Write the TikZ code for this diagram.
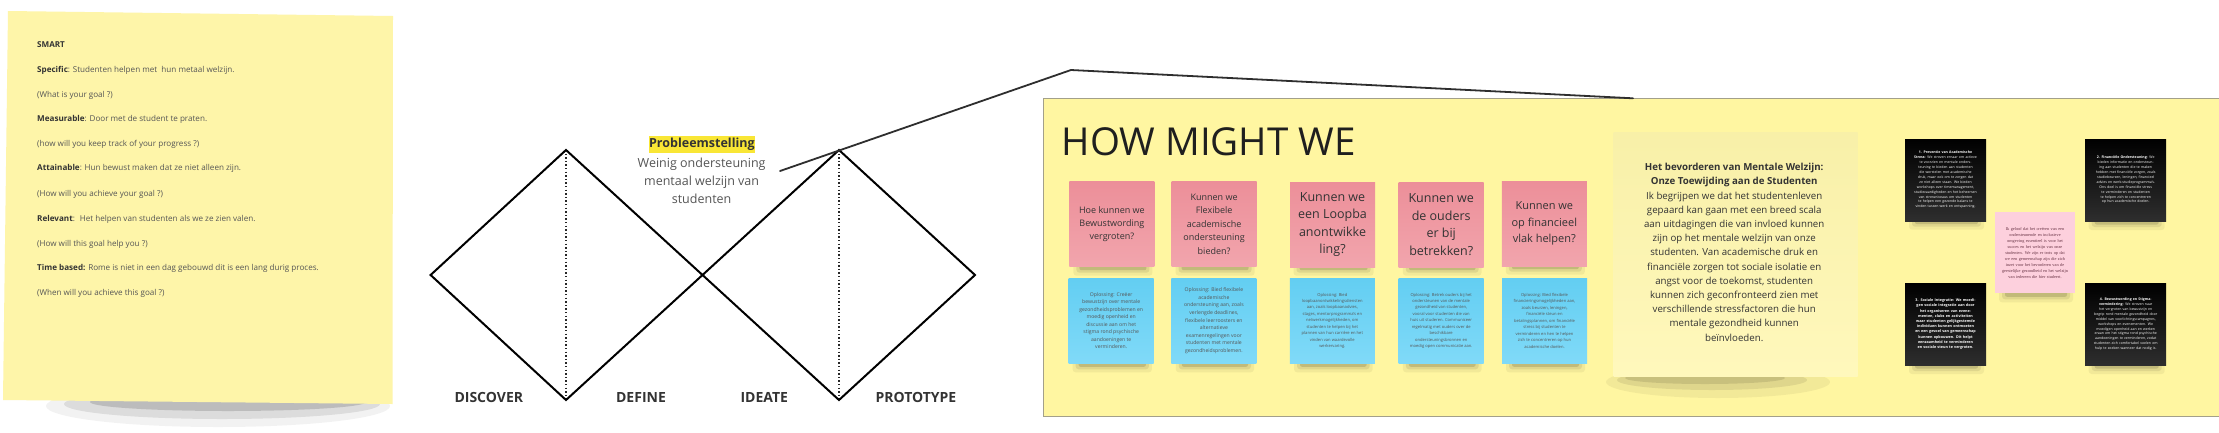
\documentclass[tikz,border=0pt]{standalone}
\usepackage{fontspec}
\setmainfont{Open Sans}
\newfontfamily\serifnote{Liberation Serif}
\definecolor{frameyellow}{HTML}{FFF6A1}
\definecolor{frameedge}{HTML}{A3A08A}
\definecolor{noteyellow}{HTML}{FEF5A9}
\definecolor{bignoteA}{HTML}{F8F0A8}
\definecolor{bignoteB}{HTML}{FFF8BC}
\definecolor{pinkA}{HTML}{EC8F99}
\definecolor{pinkB}{HTML}{F2A5AD}
\definecolor{blueA}{HTML}{63CEF2}
\definecolor{blueB}{HTML}{80DAF8}
\definecolor{lightpink}{HTML}{FDD0DD}
\definecolor{txt}{HTML}{333333}
\definecolor{txtlight}{HTML}{555555}
\definecolor{linegray}{HTML}{2E2E2E}
\definecolor{hilite}{HTML}{F9E635}
\newcommand\notesh[3]{%
  \fill[black,opacity=0.05,rounded corners=3pt] (#1+4,#3-6) rectangle (#2-2,#3+9);
  \fill[black,opacity=0.08,rounded corners=3pt] (#1+7,#3-6) rectangle (#2-5,#3+6);
  \fill[black,opacity=0.13,rounded corners=2pt] (#1+10,#3-6) rectangle (#2-8,#3+3.5);
}
\tikzset{
  pinknote/.style={top color=pinkA, bottom color=pinkB, minimum width=85pt, minimum height=85pt, inner sep=0pt, align=center, text=txt},
  bluenote/.style={top color=blueA, bottom color=blueB, minimum width=85pt, minimum height=85pt, inner sep=0pt, align=center, text=txtlight},
  blacknote/.style={top color=black, bottom color=black!82!white, minimum width=81pt, minimum height=82pt, inner sep=0pt, align=center, text width=64pt, text=white, font=\fontsize{3.5}{4.9}\selectfont},
  smartline/.style={anchor=base west, inner sep=0pt, text=txtlight, font=\fontsize{8.1}{9.5}\selectfont},
  phase/.style={font=\bfseries\fontsize{14}{16}\selectfont, text=txt, inner sep=0pt},
  diam/.style={line width=2pt, black, line join=miter},
  dotline/.style={line width=1.3pt, dash pattern=on 1.3pt off 2.3pt, black!85},
  callout/.style={line width=1.8pt, linegray},
}
\begin{document}
\begin{tikzpicture}[x=1pt,y=-1pt]
\useasboundingbox (0,0) rectangle (2219,432);
\fill[white] (0,0) rectangle (2219,432);

% ---------- left SMART note ----------
\fill[black,opacity=0.05] (218,406) ellipse (172pt and 21pt);
\fill[black,opacity=0.09] (222,404) ellipse (158pt and 15pt);
\fill[black,opacity=0.14] (228,402) ellipse (138pt and 9pt);
\fill[noteyellow] (8,11) -- (393,16) -- (392.5,404) -- (3,400) -- cycle;
\node[smartline,text=txt] (s0) at (37,47.8) {\bfseries SMART};
\node[smartline] (s1) at (37,72.8) {\textbf{\color{txt}Specific}: Studenten helpen met~ hun metaal welzijn.};
\node[smartline] (s2) at (37,97.1) {(What is your goal ?)};
\node[smartline] (s3) at (37,121.8) {\textbf{\color{txt}Measurable}: Door met de student te praten.};
\node[smartline] (s4) at (37,146.8) {(how will you keep track of your progress ?)};
\node[smartline] (s5) at (37,170.8) {\textbf{\color{txt}Attainable}: Hun bewust maken dat ze niet alleen zijn.};
\node[smartline] (s6) at (37,196.1) {(How will you achieve your goal ?)};
\node[smartline] (s7) at (37,221.1) {\textbf{\color{txt}Relevant}:~ Het helpen van studenten als we ze zien valen.};
\node[smartline] (s8) at (37,246.1) {(How will this goal help you ?)};
\node[smartline] (s9) at (37,270.1) {\textbf{\color{txt}Time based:} Rome is niet in een dag gebouwd dit is een lang durig proces.};
\node[smartline] (s10) at (37,295.1) {(When will you achieve this goal ?)};

% ---------- double diamond ----------
\coordinate (L1) at (430.6,275);
\coordinate (T1) at (566,150);
\coordinate (B1) at (566,400);
\coordinate (M) at (702.5,275);
\coordinate (T2) at (839,150);
\coordinate (B2) at (839,400);
\coordinate (R2) at (975,275);
\draw[dotline] (T1) -- (B1);
\draw[dotline] (T2) -- (B2);
\draw[diam] (L1) -- (T1) -- (M) -- (B1) -- cycle;
\draw[diam] (M) -- (T2) -- (R2) -- (B2) -- cycle;
\node[phase] (discover) at (488.8,397.7) {DISCOVER};
\node[phase] (define) at (641,397.7) {DEFINE};
\node[phase] (ideate) at (764.3,397.7) {IDEATE};
\node[phase] (prototype) at (915.9,397.7) {PROTOTYPE};

\fill[hilite] (648.8,135.7) rectangle (755.1,153.3);
\node[inner sep=0pt, text=txt, font=\bfseries\fontsize{12.5}{15}\selectfont] (probl) at (701.9,144.2) {Probleemstelling};
\node[inner sep=0pt, align=center, text=txtlight, font=\fontsize{12.5}{18}\selectfont] (probtxt) at (701.6,180.7) {Weinig ondersteuning\\mentaal welzijn van\\studenten};

% ---------- HMW frame ----------
\fill[frameyellow] (1043,98.3) rectangle (2230,416.7);
\draw[frameedge, line width=0.9pt] (2230,98.3) -- (1043,98.3) -- (1043,416.7) -- (2230,416.7);

\coordinate (ps) at (780,171);
\coordinate (pk) at (1071,70);
\coordinate (fe) at (1633,98.3);
\draw[callout, line cap=round, line join=round] (ps) -- (pk) -- (fe);

\node[anchor=base west, inner sep=0pt, text=black!88, font=\fontsize{38.5}{40}\selectfont] (hmw) at (1061.5,155.7) {HOW MIGHT WE};

% shadows of notes
\notesh{1069.4}{1154.4}{266.7}
\notesh{1171.6}{1256.6}{266.7}
\notesh{1289.5}{1375.6}{266.7}
\notesh{1398.9}{1483.5}{266.7}
\notesh{1501.9}{1586.8}{265.7}
\notesh{1068.6}{1153.9}{363.3}
\notesh{1171.8}{1256}{363.3}
\notesh{1290}{1374.6}{363.3}
\notesh{1398.9}{1483.6}{363.3}
\notesh{1502}{1587}{363.3}

% pink question notes
\node[pinknote, font=\fontsize{9}{13.3}\selectfont] (q1) at (1111.9,224.2) {Hoe kunnen we\\Bewustwording\\vergroten?};
\node[pinknote, font=\fontsize{9}{13.5}\selectfont] (q2) at (1214.1,224.2) {Kunnen we\\Flexibele\\academische\\ondersteuning\\bieden?};
\node[pinknote, font=\fontsize{12.5}{17.5}\selectfont] (q3) at (1332.5,224.5) {Kunnen we\\een Loopba\\anontwikke\\ling?};
\node[pinknote, font=\fontsize{12.5}{17.5}\selectfont] (q4) at (1441.2,224.5) {Kunnen we\\de ouders\\er bij\\betrekken?};
\node[pinknote, font=\fontsize{11}{16.5}\selectfont] (q5) at (1544.3,223.7) {Kunnen we\\op financieel\\vlak helpen?};

% blue solution notes
\node[bluenote, font=\fontsize{5.1}{7.5}\selectfont] (a1) at (1111.2,320.8) {Oplossing: Creëer\\bewustzijn over mentale\\gezondheidsproblemen en\\moedig openheid en\\discussie aan om het\\stigma rond psychische\\aandoeningen te\\verminderen.};
\node[bluenote, font=\fontsize{5.1}{7.6}\selectfont] (a2) at (1213.9,320.8) {Oplossing: Bied flexibele\\academische\\ondersteuning aan, zoals\\verlengde deadlines,\\flexibele leerroosters en\\alternatieve\\examenregelingen voor\\studenten met mentale\\gezondheidsproblemen.};
\node[bluenote, font=\fontsize{4.1}{6.45}\selectfont] (a3) at (1332.3,320.8) {Oplossing: Bied\\loopbaanontwikkelingsdiensten\\aan, zoals loopbaanadvies,\\stages, mentorprogramma's en\\netwerkmogelijkheden, om\\studenten te helpen bij het\\plannen van hun carrière en het\\vinden van waardevolle\\werkervaring.};
\node[bluenote, font=\fontsize{4.1}{6.45}\selectfont] (a4) at (1441.2,320.8) {Oplossing: Betrek ouders bij het\\ondersteunen van de mentale\\gezondheid van studenten,\\vooral voor studenten die van\\huis uit studeren. Communiceer\\regelmatig met ouders over de\\beschikbare\\ondersteuningsbronnen en\\moedig open communicatie aan.};
\node[bluenote, font=\fontsize{4.1}{6.45}\selectfont] (a5) at (1544.5,320.8) {Oplossing: Bied flexibele\\financieringsmogelijkheden aan,\\zoals beurzen, leningen,\\financiële steun en\\betalingsplannen, om financiële\\stress bij studenten te\\verminderen en hen te helpen\\zich te concentreren op hun\\academische doelen.};

% big statement note
\fill[black,opacity=0.05] (1718,382) ellipse (112pt and 16pt);
\fill[black,opacity=0.08] (1712,380) ellipse (95pt and 10pt);
\fill[black,opacity=0.1] (1705,378) ellipse (80pt and 6pt);
\node[top color=bignoteA, bottom color=bignoteB, minimum width=244pt, minimum height=244pt, inner sep=0pt] (big) at (1735.6,254.5) {};
\node[inner sep=0pt, align=center, text=txt, font=\fontsize{9.7}{14.2}\selectfont] (bigtxt) at (1734.2,252.2) {\textbf{Het bevorderen van Mentale Welzijn:}\\\textbf{Onze Toewijding aan de Studenten}\\Ik begrijpen we dat het studentenleven\\gepaard kan gaan met een breed scala\\aan uitdagingen die van invloed kunnen\\zijn op het mentale welzijn van onze\\studenten. Van academische druk en\\financiële zorgen tot sociale isolatie en\\angst voor de toekomst, studenten\\kunnen zich geconfronteerd zien met\\verschillende stressfactoren die hun\\mentale gezondheid kunnen\\beïnvloeden.};

% black notes + pink note
\notesh{1905}{1986}{220.7}
\notesh{2084.7}{2166.7}{221}
\notesh{1905}{1986}{365}
\notesh{2084.7}{2166.7}{365}
\notesh{1995}{2075}{293.3}
\node[blacknote] (k1) at (1945.5,180) {\textbf{1. Preventie van Academische Stress:} We streven ernaar om actieve te voorzien en mentale ondersteuning te bieden aan studenten die worstelen met academische druk, maar ook om te zorgen dat ze niet alleen staan. We bieden workshops over timemanagement, studievaardigheden en het beheersen van stressniveaus om studenten te helpen een gezonde balans te vinden tussen werk en ontspanning.};
\node[blacknote] (k2) at (2125.7,180) {\textbf{2. Financiële Ondersteuning:} We bieden informatie en ondersteuning aan studenten die te maken hebben met financiële zorgen, zoals studiebeurzen, leningen, financieel advies en werk-studieprogramma's. Ons doel is om financiële stress te verminderen en studenten te helpen zich te concentreren op hun academische doelen.};
\node[blacknote, font=\bfseries\fontsize{3.7}{5.2}\selectfont] (k3) at (1945.5,324.2) {3. Sociale Integratie: We moedigen sociale integratie aan door het organiseren van evenementen, clubs en activiteiten waar studenten gelijkgestemde individuen kunnen ontmoeten en een gevoel van gemeenschap kunnen opbouwen. Dit helpt eenzaamheid te verminderen en sociale steun te vergroten.};
\node[blacknote] (k4) at (2125.7,324.2) {\textbf{4. Bewustwording en Stigma-vermindering:} We streven naar het vergroten van bewustzijn en begrip rond mentale gezondheid door middel van voorlichtingscampagnes, workshops en evenementen. We moedigen openheid aan en werken eraan om het stigma rond psychische aandoeningen te verminderen, zodat studenten zich comfortabel voelen om hulp te zoeken wanneer dat nodig is.};
\node[fill=lightpink, minimum width=80pt, minimum height=81pt, inner sep=0pt, align=center, text width=66pt, text=black!55!purple!60!gray, font=\serifnote\fontsize{4.3}{6}\selectfont] (pk2) at (2035,252.8) {Ik geloof dat het creëren van een ondersteunende en inclusieve omgeving essentieel is voor het succes en het welzijn van onze studenten. We zijn er trots op dat we een gemeenschap zijn die zich inzet voor het bevorderen van de geestelijke gezondheid en het welzijn van iedereen die hier studeert.};
\end{tikzpicture}
\end{document}
